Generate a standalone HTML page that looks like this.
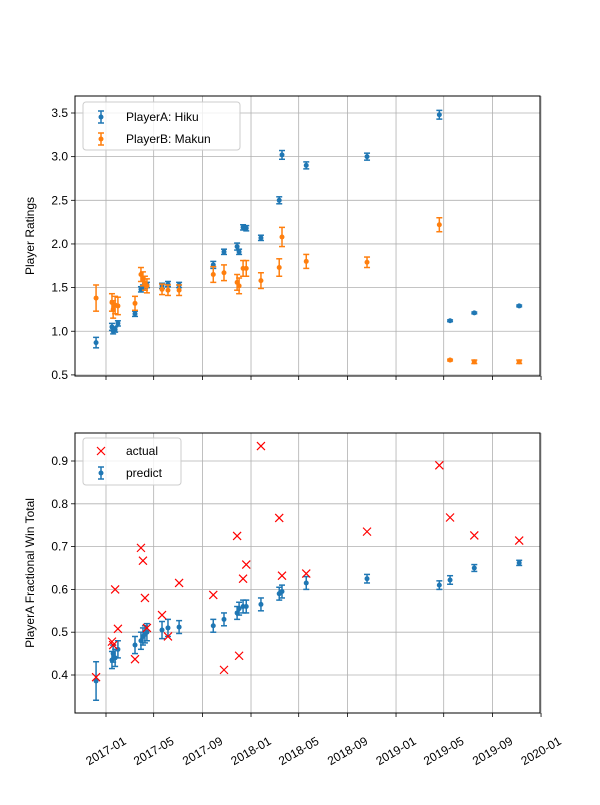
<!DOCTYPE html>
<html><head><meta charset="utf-8"><style>
body{margin:0;background:#fff}
svg{font-family:"Liberation Sans","DejaVu Sans",sans-serif;font-size:12px}
</style></head><body>
<svg id="c" width="600" height="800"></svg>
<script>
const dayOffsets=[-25,15,18,23,30,73,88,93,98,103,141,156,184,270,297,330,335,345,353,390,436,443,504,657,839,866,927,1040];
const hikuRating=[0.87,1.05,1.00,1.02,1.09,1.20,1.48,1.50,1.52,1.53,1.52,1.54,1.53,1.76,1.91,1.97,1.91,2.19,2.18,2.07,2.50,3.02,2.90,3.00,3.48,1.12,1.21,1.29];
const hikuErr=[0.06,0.04,0.03,0.03,0.03,0.03,0.03,0.03,0.03,0.03,0.03,0.03,0.03,0.04,0.03,0.04,0.03,0.03,0.03,0.03,0.04,0.05,0.04,0.04,0.05,0.01,0.01,0.01];
const makunRating=[1.38,1.33,1.25,1.30,1.29,1.32,1.65,1.60,1.55,1.52,1.48,1.47,1.47,1.65,1.67,1.56,1.52,1.72,1.72,1.58,1.73,2.08,1.80,1.79,2.22,0.67,0.65,0.65];
const makunErr=[0.15,0.1,0.1,0.1,0.1,0.08,0.08,0.08,0.08,0.08,0.06,0.06,0.06,0.09,0.09,0.09,0.09,0.09,0.09,0.09,0.1,0.11,0.08,0.06,0.08,0.01,0.02,0.02];
const predictVal=[0.386,0.435,0.45,0.44,0.46,0.47,0.48,0.49,0.495,0.50,0.505,0.51,0.512,0.515,0.53,0.545,0.555,0.56,0.56,0.565,0.59,0.595,0.615,0.625,0.61,0.622,0.65,0.662];
const predictErr=[0.045,0.02,0.02,0.02,0.02,0.02,0.02,0.02,0.02,0.02,0.02,0.02,0.015,0.015,0.015,0.015,0.015,0.015,0.015,0.015,0.015,0.015,0.015,0.01,0.01,0.01,0.008,0.006];
const actualVal=[0.395,0.478,0.47,0.60,0.508,0.437,0.697,0.667,0.58,0.51,0.54,0.49,0.615,0.587,0.412,0.725,0.445,0.625,0.658,0.935,0.767,0.632,0.637,0.735,0.89,0.768,0.726,0.714];
const xTickLabels=["2017-01","2017-05","2017-09","2018-01","2018-05","2018-09","2019-01","2019-05","2019-09","2020-01"];
const xTickDays=[0,120,243,365,485,608,730,850,973,1095];
const topTicks=[0.5,1.0,1.5,2.0,2.5,3.0,3.5];
const botTicks=[0.4,0.5,0.6,0.7,0.8,0.9];

const NS="http://www.w3.org/2000/svg";
const svg=document.getElementById('c');
function el(t,a,p){const e=document.createElementNS(NS,t);for(const k in a)e.setAttribute(k,a[k]);(p||svg).appendChild(e);return e;}
const L=75,R=540;
const xs=d=>106+d*0.3973;
const yTop=v=>113+(3.5-v)*87.3;
const yBot=v=>461+(0.9-v)*428;

function axes(y0,y1,ticks,ys,fmt,showX,name){
  const g=el('g',{});
  
  
  xTickDays.forEach((d,i)=>{const x=xs(d);
    const gl=el('line',{x1:x,x2:x,y1:y0,y2:y1,stroke:'#b0b0b0','stroke-width':0.8},g);
    
    el('line',{x1:x,x2:x,y1:y1,y2:y1+4,stroke:'#000','stroke-width':0.8},g);
    if(showX){const cy=y1+38;const t=el('text',{x:x,y:cy+4,'text-anchor':'middle',transform:`rotate(-30 ${x} ${cy})`,fill:'#000'},g);t.textContent=xTickLabels[i];
      }
  });
  ticks.forEach(v=>{const y=ys(v);
    const gl=el('line',{x1:L,x2:R,y1:y,y2:y,stroke:'#b0b0b0','stroke-width':0.8},g);
    
    el('line',{x1:L-4,x2:L,y1:y,y2:y,stroke:'#000','stroke-width':0.8},g);
    const t=el('text',{x:L-7,y:y+4,'text-anchor':'end'},g);t.textContent=v.toFixed(fmt);
    
  });
  return g;
}
function frame(y0,y1){const f=el('rect',{x:L,y:y0,width:R-L,height:y1-y0,fill:'none',stroke:'#000','stroke-width':1});
  }
function errpt(x,y,ylo,yhi,col,name){
  const g=el('g',{});
  
  
  el('line',{x1:x,x2:x,y1:ylo,y2:yhi,stroke:col,'stroke-width':1.5},g);
  el('line',{x1:x-3,x2:x+3,y1:ylo,y2:ylo,stroke:col,'stroke-width':1.5},g);
  el('line',{x1:x-3,x2:x+3,y1:yhi,y2:yhi,stroke:col,'stroke-width':1.5},g);
  el('circle',{cx:x,cy:y,r:2.5,fill:col},g);
}
axes(96,376,topTicks,yTop,1,false,'top-axes');
dayOffsets.forEach((d,i)=>{const x=xs(d);
  errpt(x,yTop(hikuRating[i]),yTop(hikuRating[i]-hikuErr[i]),yTop(hikuRating[i]+hikuErr[i]),'#1f77b4','hiku-point');
});
dayOffsets.forEach((d,i)=>{const x=xs(d);
  errpt(x,yTop(makunRating[i]),yTop(makunRating[i]-makunErr[i]),yTop(makunRating[i]+makunErr[i]),'#ff7f0e','makun-point');
});
frame(96,376);
axes(433,713,botTicks,yBot,1,true,'bottom-axes');
dayOffsets.forEach((d,i)=>{const x=xs(d);
  errpt(x,yBot(predictVal[i]),yBot(predictVal[i]-predictErr[i]),yBot(predictVal[i]+predictErr[i]),'#1f77b4','predict-point');
});
dayOffsets.forEach((d,i)=>{const x=xs(d),y=yBot(actualVal[i]);
  const p=el('path',{d:`M${x-4} ${y-4}L${x+4} ${y+4}M${x-4} ${y+4}L${x+4} ${y-4}`,stroke:'#ff0000','stroke-width':1.2});
  
});
frame(433,713);
let t=el('text',{x:34,y:236,'text-anchor':'middle',transform:'rotate(-90 34 236)'});t.textContent='Player Ratings';

t=el('text',{x:34,y:573,'text-anchor':'middle',transform:'rotate(-90 34 573)'});t.textContent='PlayerA Fractional Win Total';

function legendBox(x,y,w,h,name){const r=el('rect',{x:x,y:y,width:w,height:h,rx:3,fill:'#fff','fill-opacity':0.8,stroke:'#ccc'});
  }
legendBox(83,102,157,48,'top-legend');
errpt(101,117,111,123,'#1f77b4','legend-hiku-marker');
t=el('text',{x:126,y:121});t.textContent='PlayerA: Hiku';
errpt(101,139,133,145,'#ff7f0e','legend-makun-marker');
t=el('text',{x:126,y:143});t.textContent='PlayerB: Makun';
legendBox(83,438,98,47,'bottom-legend');
let p=el('path',{d:'M97 447L105 455M97 455L105 447',stroke:'#ff0000','stroke-width':1.2});

t=el('text',{x:126,y:455});t.textContent='actual';
errpt(101,473,467,479,'#1f77b4','legend-predict-marker');
t=el('text',{x:126,y:477});t.textContent='predict';
</script>
</body></html>
